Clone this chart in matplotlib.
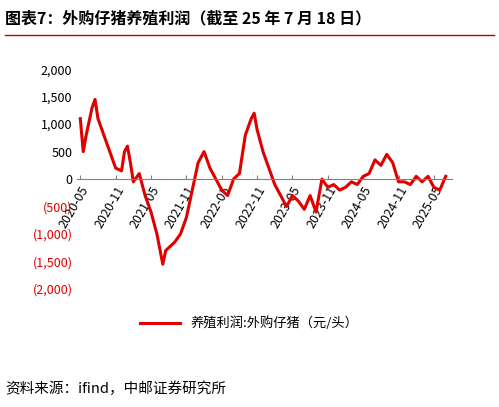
import matplotlib.pyplot as plt
from matplotlib.ticker import FuncFormatter

plt.rcParams['font.family'] = ['Noto Sans CJK SC', 'DejaVu Sans']

# 月份序号(从2020-05起) 与 外购仔猪养殖利润 (元/头)
months = [0, 0.5, 1, 2, 2.5, 3, 4, 5, 6, 7, 7.5, 8, 8.5, 9, 10, 11, 12, 13, 14, 14.5,
          15, 16, 17, 18, 19, 20, 21, 22, 23, 24, 25, 26, 27, 28, 29, 29.5, 30, 31, 32,
          33, 34, 35, 36, 37, 38, 39, 40, 41, 42, 43, 44, 45, 46, 47, 48, 49, 50, 51,
          52, 53, 54, 55, 56, 57, 58, 59, 60, 61, 62]
profit = [1100, 500, 800, 1300, 1450, 1100, 800, 500, 200, 150, 500, 600, 300, -50, 100,
          -300, -600, -1000, -1550, -1300, -1250, -1150, -1000, -700, -200, 300, 500, 200,
          0, -200, -300, 0, 100, 800, 1100, 1200, 900, 500, 200, -100, -300, -500, -300,
          -400, -550, -300, -600, 0, -150, -100, -200, -150, -50, -100, 50, 100, 350, 250,
          450, 300, -50, -50, -100, 50, -50, 50, -150, -200, 50]
tick_pos = [0, 6, 12, 18, 24, 30, 36, 42, 48, 54, 60]
tick_labels = ['2020-05', '2020-11', '2021-05', '2021-11', '2022-05', '2022-11',
               '2023-05', '2023-11', '2024-05', '2024-11', '2025-05']

fig = plt.figure(figsize=(4.99, 4.07), dpi=100)
fig.text(0.01, 0.955, '图表7：外购仔猪养殖利润（截至 25 年 7 月 18 日）', fontsize=11.5,
         fontweight='bold', va='center')
fig.add_artist(plt.Line2D([0.01, 0.99], [0.915, 0.915], color='#c00000', lw=1))
fig.text(0.01, 0.045, '资料来源：ifind，中邮证券研究所', fontsize=10.5, va='center')

ax = fig.add_axes([0.155, 0.29, 0.75, 0.54])
line, = ax.plot(months, profit, color='#e00000', lw=2.2)
ax.set_ylim(-2000, 2000)
ax.set_xlim(-0.5, 63)
ax.set_yticks(range(-2000, 2001, 500))
ax.yaxis.set_major_formatter(FuncFormatter(
    lambda v, p: f'({abs(v):,.0f})' if v < 0 else f'{v:,.0f}'))
ax.tick_params(axis='y', length=0, labelsize=9)
fig.canvas.draw()
for t, v in zip(ax.get_yticklabels(), ax.get_yticks()):
    t.set_color('#e00000' if v < 0 else 'black')
ax.spines['bottom'].set_position(('data', 0))
for s in ['top', 'right', 'left']:
    ax.spines[s].set_visible(False)
ax.spines['bottom'].set_color('#808080')
ax.set_xticks(tick_pos)
ax.set_xticklabels(tick_labels, rotation=60, fontsize=9, ha='right', rotation_mode='anchor')
ax.tick_params(axis='x', direction='in', length=3, color='#808080')
fig.legend([line], ['养殖利润:外购仔猪（元/头）'], loc='center', bbox_to_anchor=(0.5, 0.205),
           frameon=False, fontsize=9.5, handlelength=3)
plt.savefig('out.png', dpi=100)
